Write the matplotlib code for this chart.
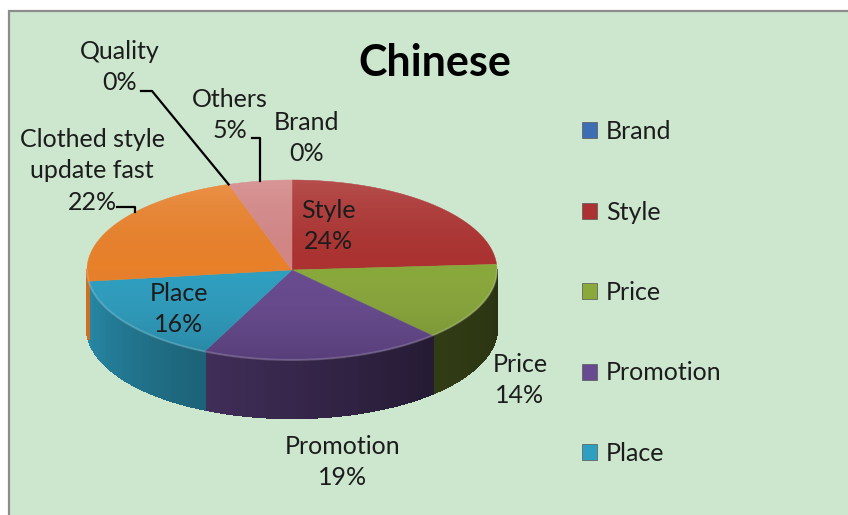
import matplotlib.pyplot as plt
import numpy as np
from matplotlib.collections import PolyCollection
from matplotlib.colors import to_rgb
from matplotlib.patches import Patch, Polygon, Rectangle

# data
categories = ["Brand", "Style", "Price", "Promotion", "Place",
              "Clothed style\nupdate fast", "Quality", "Others"]
shares = [0, 24, 14, 19, 16, 22, 0, 5]
slice_colors = ["#3d6eb4", "#ab3230", "#8aa93b", "#684a90",
                "#2e9fc1", "#e8802a", "#4f81bd", "#d38585"]
legend_items = ["Brand", "Style", "Price", "Promotion", "Place"]
chart_title = "Chinese"

# layout (pixels, y down)
W, H = 848, 515
CX, CY, RX, RY, DEPTH = 292, 270, 205, 90, 58
label_pos = {
    "Brand": (307, 138), "Style": (328, 226), "Price": (520, 380),
    "Promotion": (343, 462), "Place": (179, 309),
    "Clothed style\nupdate fast": (92, 171), "Quality": (120, 67),
    "Others": (230, 115),
}
# leader lines: (start of line at text, rim angle it points to)
leaders = {
    "Quality": ((141, 91), None),
    "Others": ((252, 138), None),
    "Clothed style\nupdate fast": ((117, 207), 140),
}
FONT = "Lato"
TXT = "#1c1c1c"
FS = 18


def rim(theta, scale=1.0):
    t = np.radians(theta)
    return CX + scale * RX * np.cos(t), CY - scale * RY * np.sin(t)


def side_shade(theta):
    return np.interp(theta, [-180, -115, -47, 0], [0.9, 0.62, 0.36, 0.3])


fig = plt.figure(figsize=(W / 100, H / 100), dpi=100, facecolor="white")
ax = fig.add_axes([0, 0, 1, 1])
ax.set_xlim(0, W)
ax.set_ylim(H, 0)
ax.axis("off")

ax.add_patch(Rectangle((9, 11), W + 20, H + 20, facecolor="#cde7cf",
                       edgecolor="#8c8c8c", linewidth=1.6, zorder=0))

values = np.array(shares, dtype=float)
starts = 90 - np.concatenate([[0], np.cumsum(values)[:-1]]) / values.sum() * 360
ends = starts - values / values.sum() * 360

# pie walls (front half only)
quads, quad_colors = [], []
for t0, t1, col in zip(starts, ends, slice_colors):
    lo, hi = max(t1, -180), min(t0, 0)
    if hi <= lo:
        continue
    ts = np.linspace(lo, hi, max(int(hi - lo), 2))
    base = np.array(to_rgb(col))
    for a, b in zip(ts[:-1], ts[1:]):
        xa, ya = rim(a)
        xb, yb = rim(b)
        quads.append([(xa, ya), (xb, yb), (xb, yb + DEPTH), (xa, ya + DEPTH)])
        quad_colors.append(np.clip(base * side_shade((a + b) / 2), 0, 1))
ax.add_collection(PolyCollection(quads, facecolors=quad_colors, edgecolors=quad_colors,
                                 linewidths=1.0, antialiaseds=False, zorder=2))

# pie top
for t0, t1, col in zip(starts, ends, slice_colors):
    if t0 == t1:
        continue
    ts = np.linspace(t0, t1, 120)
    pts = [(CX, CY)] + [rim(t) for t in ts]
    ax.add_patch(Polygon(pts, closed=True, facecolor=col, edgecolor=col,
                         linewidth=0.3, zorder=3))

ring = Polygon([rim(t) for t in np.linspace(0, 360, 400)], closed=True,
               transform=ax.transData, facecolor="none", edgecolor="none")
ax.add_patch(ring)
shade = np.zeros((100, 1, 4))
shade[:, 0, :3] = np.linspace(1, 0, 100)[:, None]
shade[:, 0, 3] = np.abs(np.linspace(0.14, -0.16, 100))
img = ax.imshow(shade, extent=(CX - RX, CX + RX, CY + RY, CY - RY),
                aspect="auto", zorder=4, interpolation="bilinear")
img.set_clip_path(ring)
front = np.linspace(-180, 0, 200)
fx, fy = rim(front)
ax.plot(fx, fy, color="white", alpha=0.18, linewidth=1.5, zorder=4)
ax.set_xlim(0, W)
ax.set_ylim(H, 0)

# data labels
for name, v, t0, t1 in zip(categories, shares, starts, ends):
    x, y = label_pos[name]
    ax.text(x, y, f"{name}\n{v}%", ha="center", va="center", fontsize=FS,
            family=FONT, color=TXT, linespacing=1.45, zorder=6)
    if name in leaders:
        (sx, sy), ang = leaders[name]
        if ang is None:
            ang = (t0 + t1) / 2
        ex, ey = rim(ang)
        if abs(ex - sx) > 40:
            ax.plot([sx, sx + 11, ex], [sy, sy, ey], color="black", lw=1.6, zorder=5)
        else:
            ax.plot([sx, ex, ex], [sy, sy, ey], color="black", lw=1.6, zorder=5)

ax.text(435, 63, chart_title, ha="center", va="center", fontsize=31,
        fontweight="bold", family=FONT, color="black", zorder=6)

handles = [Patch(facecolor=slice_colors[categories.index(n)],
                 edgecolor="#555555", linewidth=0.5) for n in legend_items]
ax.legend(handles, legend_items, loc="upper left", bbox_to_anchor=(582, 120),
          bbox_transform=ax.transData, frameon=False, prop={"family": FONT, "size": FS},
          handlelength=0.6, handleheight=0.6, handletextpad=0.35,
          labelspacing=2.3, borderpad=0, borderaxespad=0, labelcolor=TXT)

fig.savefig("out.png", dpi=100, facecolor="white")
